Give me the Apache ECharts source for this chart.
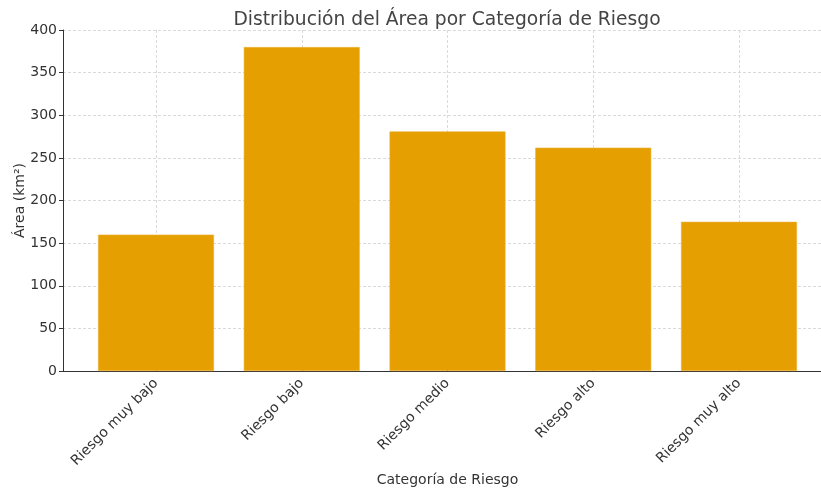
<!DOCTYPE html>
<html>
<head>
<meta charset="utf-8">
<script src="https://cdn.jsdelivr.net/npm/echarts@6/dist/echarts.min.js"></script>
<style>
  html, body { margin: 0; padding: 0; background: #fff; }
  #chart { width: 821px; height: 491px; }
</style>
</head>
<body>
<div id="chart"></div>
<script>
var categories = ['Riesgo muy bajo', 'Riesgo bajo', 'Riesgo medio', 'Riesgo alto', 'Riesgo muy alto'];
var areaValues = [160, 380, 281, 262, 175];
var yTicks = { min: 0, max: 400, step: 50 };

var font = 'DejaVu Sans';
var textColor = '#333';
var barColor = '#E69F00';

function handle() {
    var gridLine = { show: true, lineStyle: { color: '#d0d0d0', type: [3, 2], width: 0.8 } };

    var option = {
        animation: false,
        title: {
            text: 'Distribución del Área por Categoría de Riesgo',
            left: 442,
            top: 6,
            textAlign: 'center',
            textStyle: { fontFamily: font, fontSize: 18.7, fontWeight: 'normal', color: '#444' }
        },
        grid: [
            // full frame: y axis, horizontal grid, bottom spine
            { left: 63, right: 0, top: 30, bottom: 120, containLabel: false, outerBoundsMode: 'none' },
            // category area: first and last category sit on the edges
            { left: 156, width: 583, top: 30, bottom: 120, containLabel: false, outerBoundsMode: 'none' }
        ],
        xAxis: [
            {
                gridIndex: 0,
                type: 'value',
                min: 0,
                max: 1,
                axisLine: { show: true, lineStyle: { color: textColor, width: 1 } },
                axisTick: { show: false },
                axisLabel: { show: false },
                splitLine: { show: false }
            },
            {
                gridIndex: 1,
                type: 'category',
                data: categories,
                boundaryGap: false,
                axisLine: { show: false },
                axisTick: { show: true, inside: true, length: 4, lineStyle: { color: textColor } },
                axisLabel: {
                    rotate: 45,
                    margin: 10,
                    interval: 0,
                    fontFamily: font,
                    fontSize: 14,
                    color: textColor
                },
                splitLine: gridLine,
                name: 'Categoría de Riesgo',
                nameLocation: 'middle',
                nameGap: 102,
                nameMoveOverlap: false,
                nameTextStyle: { fontFamily: font, fontSize: 14, color: textColor }
            }
        ],
        yAxis: [
            {
                gridIndex: 0,
                type: 'value',
                min: yTicks.min,
                max: yTicks.max,
                interval: yTicks.step,
                axisLine: { show: true, lineStyle: { color: textColor, width: 1 } },
                axisTick: { show: true, length: 4, lineStyle: { color: textColor } },
                axisLabel: { margin: 6, fontFamily: font, fontSize: 14, color: textColor },
                splitLine: gridLine,
                name: 'Área (km²)',
                nameLocation: 'middle',
                nameGap: 36,
                nameMoveOverlap: false,
                nameRotate: 90,
                nameTextStyle: { fontFamily: font, fontSize: 14, color: textColor }
            },
            {
                gridIndex: 1,
                type: 'value',
                min: yTicks.min,
                max: yTicks.max,
                show: false
            }
        ],
        series: [{
            type: 'bar',
            xAxisIndex: 1,
            yAxisIndex: 1,
            data: areaValues,
            barWidth: 116,
            clip: false,
            itemStyle: { color: barColor, borderColor: '#EDB43C', borderWidth: 0.6 }
        }]
    };

    var myChart = echarts.init(document.getElementById('chart'));
    myChart.setOption(option);
}

handle();
</script>
</body>
</html>
